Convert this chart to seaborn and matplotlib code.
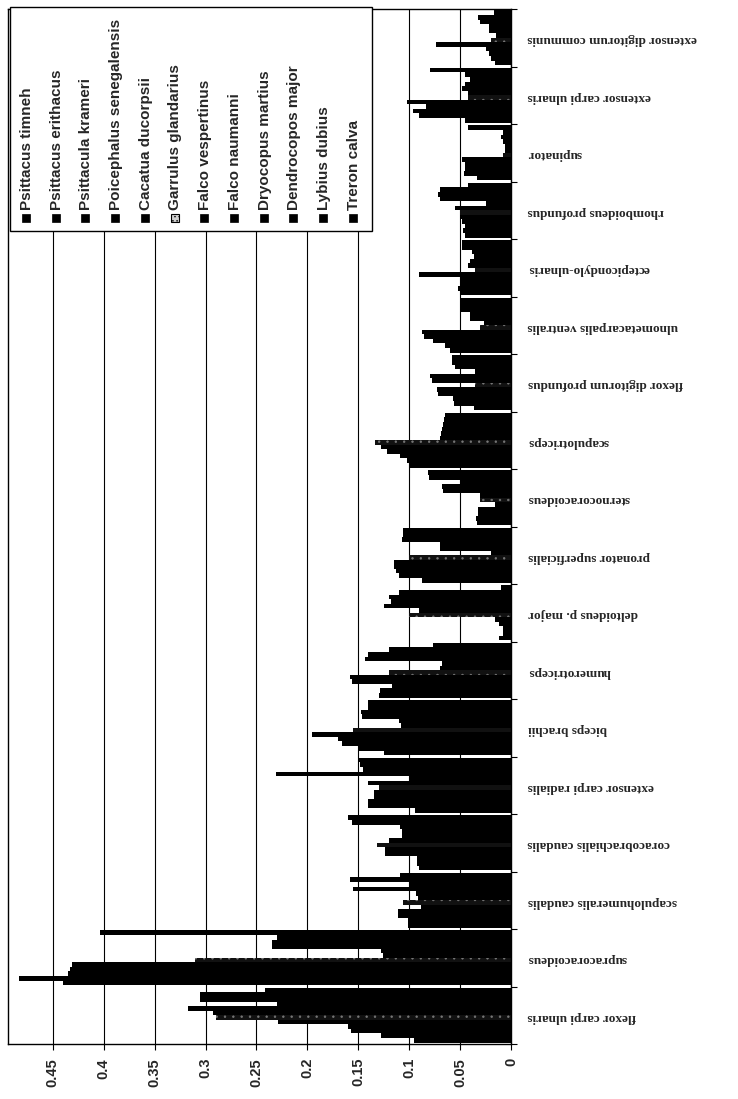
import numpy as np
import pandas as pd
import matplotlib
matplotlib.use('Agg')
import matplotlib.pyplot as plt
from matplotlib.patches import Rectangle
import seaborn as sns

muscles = ['flexor carpi ulnaris', 'supracoracoideus', 'scapulohumeralis caudalis',
           'coracobrachialis caudalis', 'extensor carpi radialis', 'biceps brachii',
           'humerotriceps', 'deltoideus p. major', 'pronator superficialis',
           'sternocoracoideus', 'scapulotriceps', 'flexor digitorum profundus',
           'ulnometacarpalis ventralis', 'ectepicondylo-ulnaris', 'rhomboideus profundus',
           'supinator', 'extensor carpi ulnaris', 'extensor digitorum communis']

species = ['Psittacus timneh', 'Psittacus erithacus', 'Psittacula krameri',
           'Poicephalus senegalensis', 'Cacatua ducorpsii', 'Garrulus glandarius',
           'Falco vespertinus', 'Falco naumanni', 'Dryocopus martius',
           'Dendrocopos major', 'Lybius dubius', 'Treron calva']

# one list per species, values in the order of `muscles`
psittacus_timneh = [0.095, 0.44, 0.101, 0.09, 0.094, 0.125, 0.13, 0.012, 0.087,
                    0.033, 0.10, 0.036, 0.06, 0.05, 0.045, 0.033, 0.045, 0.016]
psittacus_erithacus = [0.128, 0.483, 0.101, 0.092, 0.14, 0.15, 0.129, 0.008, 0.11,
                       0.034, 0.102, 0.056, 0.065, 0.052, 0.047, 0.046, 0.09, 0.02]
psittacula_krameri = [0.157, 0.435, 0.111, 0.092, 0.14, 0.166, 0.117, 0.008, 0.113,
                      0.032, 0.109, 0.057, 0.077, 0.05, 0.045, 0.045, 0.096, 0.022]
poicephalus_senegalensis = [0.16, 0.433, 0.111, 0.124, 0.135, 0.17, 0.156, 0.012, 0.115,
                            0.032, 0.122, 0.072, 0.085, 0.05, 0.048, 0.045, 0.083, 0.025]
cacatua_ducorpsii = [0.229, 0.431, 0.088, 0.124, 0.135, 0.195, 0.158, 0.016, 0.115,
                     0.016, 0.128, 0.073, 0.087, 0.09, 0.05, 0.048, 0.102, 0.074]
garrulus_glandarius = [0.29, 0.31, 0.106, 0.132, 0.13, 0.155, 0.12, 0.10, 0.10,
                       0.03, 0.134, 0.035, 0.03, 0.035, 0.05, 0.008, 0.042, 0.02]
falco_vespertinus = [0.293, 0.126, 0.091, 0.12, 0.14, 0.108, 0.07, 0.09, 0.02,
                     0.03, 0.07, 0.078, 0.027, 0.042, 0.055, 0.006, 0.042, 0.015]
falco_naumanni = [0.317, 0.128, 0.093, 0.107, 0.10, 0.11, 0.068, 0.125, 0.07,
                  0.067, 0.069, 0.08, 0.04, 0.04, 0.025, 0.006, 0.048, 0.022]
dryocopus_martius = [0.23, 0.235, 0.155, 0.107, 0.231, 0.146, 0.143, 0.118, 0.07,
                     0.068, 0.068, 0.035, 0.04, 0.036, 0.07, 0.008, 0.045, 0.022]
dendrocopos_major = [0.305, 0.235, 0.10, 0.109, 0.145, 0.147, 0.14, 0.12, 0.107,
                     0.05, 0.067, 0.055, 0.05, 0.038, 0.072, 0.01, 0.04, 0.03]
lybius_dubius = [0.305, 0.23, 0.158, 0.156, 0.148, 0.14, 0.12, 0.11, 0.106,
                 0.081, 0.066, 0.058, 0.05, 0.048, 0.07, 0.008, 0.045, 0.032]
treron_calva = [0.242, 0.404, 0.109, 0.16, 0.15, 0.14, 0.077, 0.01, 0.106,
                0.082, 0.065, 0.058, 0.05, 0.048, 0.042, 0.042, 0.08, 0.017]

series = [psittacus_timneh, psittacus_erithacus, psittacula_krameri,
          poicephalus_senegalensis, cacatua_ducorpsii, garrulus_glandarius,
          falco_vespertinus, falco_naumanni, dryocopus_martius,
          dendrocopos_major, lybius_dubius, treron_calva]

value_ticks = [0, 0.05, 0.1, 0.15, 0.2, 0.25, 0.3, 0.35, 0.4, 0.45]
value_labels = ['0', '0.05', '0.1', '0.15', '0.2', '0.25', '0.3', '0.35', '0.4', '0.45']

rows = []
for sp, vals in zip(species, series):
    for m, v in zip(muscles, vals):
        rows.append({'muscle': m, 'species': sp, 'value': v})
df = pd.DataFrame(rows)

sns.set_style('white')
plt.rcParams['font.family'] = ['Liberation Sans', 'DejaVu Sans']
plt.rcParams['hatch.linewidth'] = 0.5

W, H = 738, 1099
def fx(px):
    return px / W
def fy(py):
    return 1 - py / H

fig = plt.figure(figsize=(W / 100, H / 100), dpi=100)
ax = fig.add_axes([fx(8), fy(1044), fx(511) - fx(8), fy(9) - fy(1044)])

sns.barplot(data=df, x='value', y='muscle', hue='species', orient='h',
            order=muscles, hue_order=species, palette=['black'] * 12,
            saturation=1, width=0.95, linewidth=0, legend=False, ax=ax)

# Garrulus glandarius drawn with a faint dotted pattern
for bar in ax.containers[5]:
    bar.set_facecolor('#111111')
    bar.set_hatch('..')
    bar.set_edgecolor('#777777')
    bar.set_linewidth(0)

ax.set_xlim(0.494, 0)
ax.set_ylim(-0.5, len(muscles) - 0.5)
ax.set_xlabel('')
ax.set_ylabel('')

ax.set_xticks(value_ticks)
ax.set_xticklabels(value_labels, rotation=90, fontsize=10.5, fontweight='bold')
ax.tick_params(axis='x', which='major', direction='out', length=4, width=0.8,
               color='black', pad=6, bottom=True)
ax.grid(axis='x', color='black', linewidth=0.8)
ax.set_axisbelow(True)

ax.yaxis.tick_right()
ax.yaxis.set_label_position('right')
ax.set_yticks(range(len(muscles)))
ax.set_yticklabels(muscles, rotation=180, fontsize=9.5, fontweight='bold',
                   family=['Liberation Serif', 'DejaVu Serif'])
ax.tick_params(axis='y', which='major', length=0, pad=12, left=False, right=True)
ax.set_yticks(np.arange(-0.5, len(muscles), 1), minor=True)
ax.tick_params(axis='y', which='minor', direction='out', length=4, width=0.8,
               color='black', left=False, right=True)

for s in ax.spines.values():
    s.set_visible(True)
    s.set_color('black')
    s.set_linewidth(1)

# legend, drawn rotated like the rest of the chart
box = Rectangle((fx(10), fy(231)), fx(372) - fx(10), fy(7) - fy(231),
                transform=fig.transFigure, facecolor='white', edgecolor='black',
                linewidth=1, zorder=5)
fig.add_artist(box)
for i, sp in enumerate(species):
    cx = 26 + 29.7 * i
    if sp == 'Garrulus glandarius':
        mk = Rectangle((fx(cx - 4), fy(222)), fx(8), fy(214) - fy(222),
                       transform=fig.transFigure, facecolor='#d0d0d0',
                       edgecolor='black', linewidth=0.8, hatch='....', zorder=6)
    else:
        mk = Rectangle((fx(cx - 4), fy(222)), fx(8), fy(214) - fy(222),
                       transform=fig.transFigure, facecolor='black',
                       edgecolor='black', linewidth=0.5, zorder=6)
    fig.add_artist(mk)
    fig.text(fx(cx + 1), fy(210), sp, rotation=90, ha='center', va='bottom',
             fontsize=11, fontweight='bold', zorder=7)

fig.savefig('out.png', dpi=100)
